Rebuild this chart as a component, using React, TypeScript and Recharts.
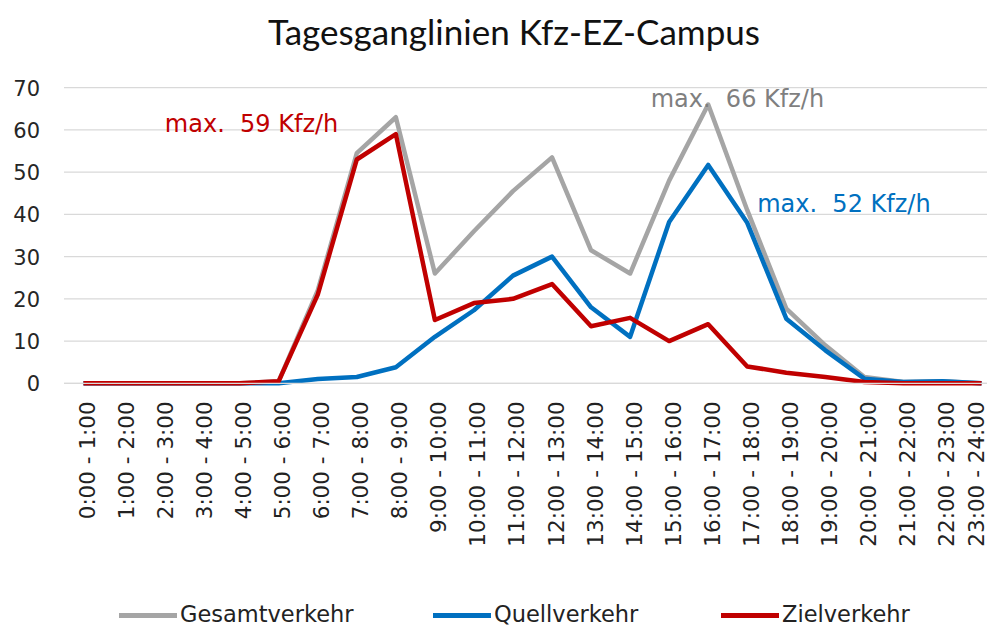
import React from 'react';
import { LineChart, Line, XAxis, YAxis, CartesianGrid, Legend, ReferenceDot } from 'recharts';

const chartTitle = 'Tagesganglinien Kfz-EZ-Campus';

const timeSlots = [
  '0:00 - 1:00', '1:00 - 2:00', '2:00 - 3:00', '3:00 - 4:00', '4:00 - 5:00', '5:00 - 6:00',
  '6:00 - 7:00', '7:00 - 8:00', '8:00 - 9:00', '9:00 - 10:00', '10:00 - 11:00', '11:00 - 12:00',
  '12:00 - 13:00', '13:00 - 14:00', '14:00 - 15:00', '15:00 - 16:00', '16:00 - 17:00', '17:00 - 18:00',
  '18:00 - 19:00', '19:00 - 20:00', '20:00 - 21:00', '21:00 - 22:00', '22:00 - 23:00', '23:00 - 24:00',
];

const gesamtverkehr = [0, 0, 0, 0, 0, 0.5, 22, 54.5, 63, 26, 36, 45.5, 53.5, 31.5, 26, 48, 66, 41, 17.7, 9, 1.5, 0.3, 0.5, 0];
const quellverkehr = [0, 0, 0, 0, 0, 0, 1, 1.5, 3.8, 11, 17.3, 25.5, 30, 18, 11, 38.2, 51.7, 38, 15.3, 7.8, 1.1, 0.3, 0.5, 0];
const zielverkehr = [0, 0, 0, 0, 0, 0.5, 21, 53, 59, 15, 19, 20, 23.5, 13.5, 15.5, 10, 14, 4, 2.5, 1.5, 0.3, 0, 0, 0];

const yTicks = [0, 10, 20, 30, 40, 50, 60, 70];

const series = [
  { key: 'gesamt', name: 'Gesamtverkehr', values: gesamtverkehr },
  { key: 'quell', name: 'Quellverkehr', values: quellverkehr },
  { key: 'ziel', name: 'Zielverkehr', values: zielverkehr },
];

// styling (kept separate from data)
const seriesStyle: Record<string, { stroke: string; label: string; dx: number; dy: number }> = {
  gesamt: { stroke: '#A5A5A5', label: '#7F7F7F', dx: -57.5, dy: 2.3 },
  quell: { stroke: '#0070C0', label: '#0070C0', dx: 49, dy: 47 },
  ziel: { stroke: '#C00000', label: '#C00000', dx: -231, dy: -2 },
};
const legendX = [119, 433, 721];
const FONT = '"DejaVu Sans", Verdana, sans-serif';
const MAX_LABEL_X = 976;

const data = timeSlots.map((slot, i) => ({
  slot,
  gesamt: gesamtverkehr[i],
  quell: quellverkehr[i],
  ziel: zielverkehr[i],
}));

const XTick = (props: any) => {
  const { x, y, payload } = props;
  const lx = Math.min(x + 4, MAX_LABEL_X);
  return (
    <text
      transform={`translate(${lx}, ${y + 18}) rotate(-90)`}
      textAnchor="end"
      dominantBaseline="central"
      fontFamily={FONT}
      fontSize={21.5}
      fill="#222"
    >
      {payload.value}
    </text>
  );
};

const YTick = (props: any) => {
  const { x, y, payload } = props;
  return (
    <text x={x} y={y + 1} textAnchor="end" dominantBaseline="central" fontFamily={FONT} fontSize={21} fill="#262626">
      {payload.value}
    </text>
  );
};

const makeAnnotation = (text: string, color: string, dx: number, dy: number) => (props: any) => {
  const vb = props.viewBox || {};
  const cx = (vb.x ?? 0) + (vb.width ?? 0) / 2;
  const cy = (vb.y ?? 0) + (vb.height ?? 0) / 2;
  return (
    <text x={cx + dx} y={cy + dy} fill={color} fontFamily={FONT} fontSize={24} style={{ whiteSpace: 'pre' }}>
      {text}
    </text>
  );
};

const renderLegend = (props: any) => {
  const payload = props.payload || [];
  return (
    <svg width={987} height={44} style={{ display: 'block', overflow: 'visible' }}>
      {payload.map((entry: any, i: number) => (
        <g key={i}>
          <line x1={legendX[i]} x2={legendX[i] + 58} y1={32.5} y2={32.5} stroke={entry.color} strokeWidth={5} />
          <text x={legendX[i] + 61} y={38.5} fontFamily={FONT} fontSize={22.5} fill="#222">
            {entry.value}
          </text>
        </g>
      ))}
    </svg>
  );
};

export default function App() {
  return (
    <div style={{ position: 'absolute', left: 0, top: 0, width: 987, height: 627, overflow: 'hidden', background: '#fff' }}>
      <LineChart width={1010} height={627} data={data} margin={{ top: 87.7, right: 9, bottom: 0, left: 0 }}>
        <CartesianGrid vertical={false} stroke="#D9D9D9" strokeWidth={1.3} />
        <XAxis
          dataKey="slot"
          interval={0}
          padding={{ left: 19.5, right: 19.5 }}
          tickLine={false}
          tickSize={0}
          tickMargin={0}
          height={199.7}
          axisLine={{ stroke: '#D9D9D9', strokeWidth: 1.3 }}
          tick={<XTick />}
        />
        <YAxis
          domain={[0, 70]}
          ticks={yTicks}
          interval={0}
          width={64}
          axisLine={false}
          tickLine={false}
          tickSize={0}
          tickMargin={24}
          tick={<YTick />}
        />
        <Legend verticalAlign="bottom" content={renderLegend} />
        {series.map((s) => (
          <Line
            key={s.key}
            type="linear"
            dataKey={s.key}
            name={s.name}
            stroke={seriesStyle[s.key].stroke}
            strokeWidth={4.5}
            strokeLinejoin="round"
            dot={false}
            activeDot={false}
            isAnimationActive={false}
          />
        ))}
        {series.map((s) => {
          const max = Math.max(...s.values);
          const idx = s.values.indexOf(max);
          const st = seriesStyle[s.key];
          return (
            <ReferenceDot
              key={'ann-' + s.key}
              x={timeSlots[idx]}
              y={max}
              r={2}
              fill="none"
              stroke="none"
              label={makeAnnotation(`max.  ${Math.round(max)} Kfz/h`, st.label, st.dx, st.dy)}
            />
          );
        })}
      </LineChart>
      <svg width={987} height={70} style={{ position: 'absolute', left: 0, top: 0 }}>
        <text
          x={514}
          y={45}
          textAnchor="middle"
          fontFamily="Lato, 'Open Sans', sans-serif"
          fontSize={35}
          fill="#111"
          textLength={492}
          lengthAdjust="spacingAndGlyphs"
        >
          {chartTitle}
        </text>
      </svg>
    </div>
  );
}
